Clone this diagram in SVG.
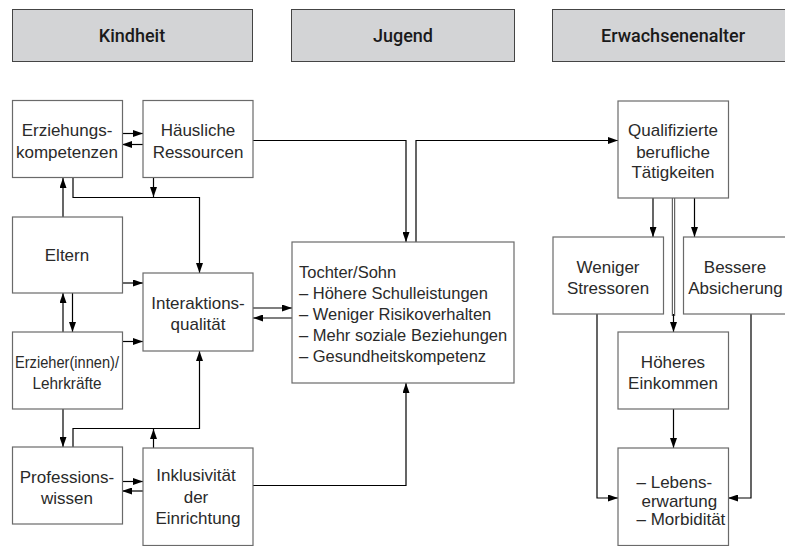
<svg xmlns="http://www.w3.org/2000/svg" width="785" height="546" viewBox="0 0 785 546">
<defs>
<marker id="ah" markerUnits="userSpaceOnUse" markerWidth="10" markerHeight="7" refX="10" refY="3.5" orient="auto">
<path d="M0,0 L10,3.5 L0,7 z" fill="#000"/>
</marker>
</defs>
<style>
.hd rect{fill:#d3d4d6;stroke:#444;stroke-width:1}
.hd text{font-family:Roboto,"Liberation Sans",Arial,sans-serif;font-size:18px;font-weight:500;fill:#1a1a1a;text-anchor:middle}
.nd rect{fill:#fff;stroke:#6a6a6a;stroke-width:1.2}
.nd text{font-family:"Liberation Sans",Arial,sans-serif;font-size:17px;fill:#2a2a2a;text-anchor:middle}
.nd text.l{text-anchor:start}
#n-tochter text{font-size:16.5px}
#connectors path{fill:none;stroke:#000;stroke-width:1.2}
#connectors path.a{marker-end:url(#ah)}
</style>
<rect width="785" height="546" fill="#fff"/>
<g class="hd" id="h-kindheit"><rect x="12.5" y="9.5" width="240" height="52"/><text x="132" y="41.5">Kindheit</text></g>
<g class="hd" id="h-jugend"><rect x="291.5" y="9.5" width="223" height="52"/><text x="403" y="41.5">Jugend</text></g>
<g class="hd" id="h-erwachsenenalter"><rect x="552.5" y="9.5" width="240" height="52"/><text x="673" y="41.5">Erwachsenenalter</text></g>

<g id="connectors">
<path class="a" d="M122,133.5 H143"/>
<path class="a" d="M143,144.5 H122"/>
<path class="a" d="M153.5,178 V197"/>
<path class="a" d="M73,178 V197.5 H199.5 V273"/>
<path class="a" d="M63,217 V178"/>
<path class="a" d="M122,283 H143"/>
<path class="a" d="M63,332 V293"/>
<path class="a" d="M72.5,293 V332"/>
<path class="a" d="M122,341.5 H143"/>
<path class="a" d="M63,409 V447"/>
<path class="a" d="M73,447 V428.5 H199.5 V351"/>
<path class="a" d="M153.5,448 V429"/>
<path class="a" d="M122,481.5 H143"/>
<path class="a" d="M143,491 H122"/>
<path class="a" d="M253,485.5 H406 V383"/>
<path class="a" d="M253,308 H292"/>
<path class="a" d="M292,318 H253"/>
<path class="a" d="M253,140.5 H406 V242"/>
<path class="a" d="M416,242 V140.5 H618"/>
<path class="a" d="M653,198 V237"/>
<path class="a" d="M694.5,198 V237"/>
<path d="M673.5,198 V316" style="stroke:#555;stroke-width:3.4"/>
<path d="M673.5,198 V316" style="stroke:#fff;stroke-width:1.2"/>
<path class="a" d="M673.5,314 V332"/>
<path class="a" d="M673.5,409 V448"/>
<path class="a" d="M597,314 V498 H618"/>
<path class="a" d="M751,314 V498 H728"/>
</g>

<g class="nd" id="n-erziehungskompetenzen"><rect x="12.5" y="100.5" width="110" height="77"/><text x="67" y="136">Erziehungs-</text><text x="67" y="157.5">kompetenzen</text></g>
<g class="nd" id="n-haeusliche"><rect x="143" y="100.5" width="110" height="77"/><text x="198" y="136">Häusliche</text><text x="198" y="157.5">Ressourcen</text></g>
<g class="nd" id="n-eltern"><rect x="12.5" y="217" width="110" height="76"/><text x="67" y="261">Eltern</text></g>
<g class="nd" id="n-interaktion"><rect x="143" y="273" width="110" height="78"/><text x="198" y="309">Interaktions-</text><text x="198" y="329.5">qualität</text></g>
<g class="nd" id="n-erzieher"><rect x="12.5" y="332" width="110" height="77"/><text x="67" y="367.5" textLength="104" lengthAdjust="spacingAndGlyphs">Erzieher(innen)/</text><text x="67" y="388.5" textLength="69" lengthAdjust="spacingAndGlyphs">Lehrkräfte</text></g>
<g class="nd" id="n-professionswissen"><rect x="12.5" y="447" width="110" height="77"/><text x="67" y="482.5">Professions-</text><text x="67" y="504">wissen</text></g>
<g class="nd" id="n-inklusivitaet"><rect x="143" y="448" width="110" height="97.5"/><text x="196" y="481">Inklusivität</text><text x="196" y="502.5">der</text><text x="198" y="524">Einrichtung</text></g>
<g class="nd" id="n-tochter"><rect x="292" y="242" width="222" height="141"/>
<text class="l" x="299" y="277.5">Tochter/Sohn</text>
<text class="l" x="299" y="298.7">– Höhere Schulleistungen</text>
<text class="l" x="299" y="319.9">– Weniger Risikoverhalten</text>
<text class="l" x="299" y="341.1">– Mehr soziale Beziehungen</text>
<text class="l" x="299" y="362.3">– Gesundheitskompetenz</text></g>
<g class="nd" id="n-qualifizierte"><rect x="618" y="101" width="110.5" height="97"/><text x="673" y="136">Qualifizierte</text><text x="673" y="157.5">berufliche</text><text x="673" y="177.5">Tätigkeiten</text></g>
<g class="nd" id="n-weniger"><rect x="553" y="237" width="110.5" height="77"/><text x="608" y="272.5">Weniger</text><text x="608" y="293.5">Stressoren</text></g>
<g class="nd" id="n-bessere"><rect x="683.5" y="237" width="104" height="77"/><text x="735" y="272.5">Bessere</text><text x="735.5" y="293.5">Absicherung</text></g>
<g class="nd" id="n-hoeheres"><rect x="618" y="332" width="110.5" height="77"/><text x="673" y="367.5">Höheres</text><text x="673" y="388.5">Einkommen</text></g>
<g class="nd" id="n-lebenserwartung"><rect x="618" y="448" width="110.5" height="97.5"/><text class="l" x="636.5" y="487.5">– Lebens-</text><text class="l" x="641.5" y="506.5">erwartung</text><text class="l" x="636.5" y="525">– Morbidität</text></g>
</svg>
